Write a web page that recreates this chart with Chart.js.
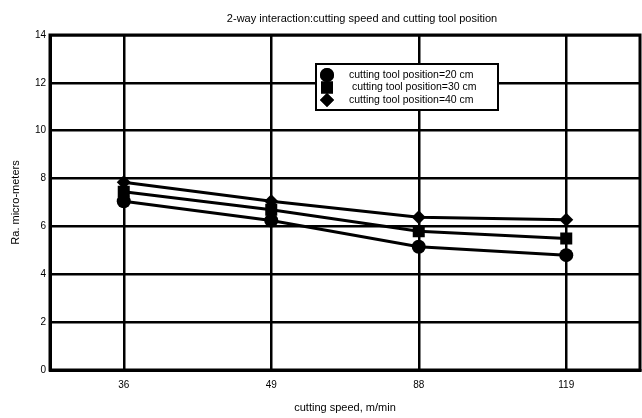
<!DOCTYPE html>
<html lang="en">
<head>
<meta charset="UTF-8">
<title>Ra vs cutting speed</title>
<script src="https://cdn.jsdelivr.net/npm/chart.js"></script>
<style>
    body { margin: 0; background: #fff; }
    #wrap { width: 642px; height: 418px; }
</style>
</head>
<body>
<div id="wrap"><canvas id="raChart" width="642" height="418"></canvas></div>
<script>
    // cutting speeds (m/min) and Ra readings for each tool position
    const speeds = ['36', '49', '88', '119'];
    const yTicks = [0, 2, 4, 6, 8, 10, 12, 14];
    const pos20 = [7.05, 6.25, 5.15, 4.8];
    const pos30 = [7.45, 6.7, 5.8, 5.5];
    const pos40 = [7.85, 7.05, 6.38, 6.28];
    const seriesLabels = ['cutting tool position=20 cm', ' cutting tool position=30 cm', 'cutting tool position=40 cm'];

    const FONT = "'Liberation Sans', Arial, sans-serif";

    // frame round the plot (top and right sides are not drawn by the axes)
    const framePlugin = {
        id: 'frame',
        beforeDatasetsDraw(chart) {
            const { ctx, chartArea: a } = chart;
            ctx.save();
            ctx.strokeStyle = '#000';
            ctx.lineWidth = 3;
            ctx.strokeRect(a.left, a.top, a.right - a.left, a.bottom - a.top);
            ctx.restore();
        }
    };

    // title drawn off-centre, legend box inside the plot
    const boxPlugin = {
        id: 'box',
        afterDraw(chart) {
            const ctx = chart.ctx;
            ctx.save();
            ctx.fillStyle = '#000';
            ctx.font = '11px ' + FONT;
            ctx.textAlign = 'center';
            ctx.textBaseline = 'middle';
            ctx.fillText('2-way interaction:cutting speed and cutting tool position', 362, 19);

            const bx = 316, by = 64, bw = 182, bh = 46;
            ctx.fillStyle = '#fff';
            ctx.fillRect(bx, by, bw, bh);
            ctx.strokeStyle = '#000';
            ctx.lineWidth = 2;
            ctx.strokeRect(bx, by, bw, bh);

            ctx.font = '10.5px ' + FONT;
            ctx.textAlign = 'left';
            chart.data.datasets.forEach((ds, i) => {
                const y = by + 11 + i * 12.5;
                ctx.fillStyle = '#000';
                Chart.helpers.drawPoint(ctx, {
                    pointStyle: ds.pointStyle,
                    radius: ds.pointRadius,
                    borderWidth: 0
                }, bx + 11, y);
                ctx.fill();
                ctx.fillText(ds.label, bx + 33, y);
            });
            ctx.restore();
        }
    };

    const lineDs = (label, data, style, r) => ({
        label: label,
        data: data,
        borderColor: '#000',
        backgroundColor: '#000',
        borderWidth: 3,
        pointStyle: style,
        pointRadius: r,
        pointHoverRadius: r,
        pointBorderWidth: 0,
        tension: 0
    });

    new Chart(document.getElementById('raChart'), {
        type: 'line',
        data: {
            labels: speeds,
            datasets: [
                lineDs(seriesLabels[0], pos20, 'circle', 7),
                lineDs(seriesLabels[1], pos30, 'rect', 8.5),
                lineDs(seriesLabels[2], pos40, 'rectRot', 7)
            ]
        },
        options: {
            responsive: false,
            animation: false,
            layout: { autoPadding: false, padding: { top: 35, right: 2, left: 0, bottom: 0 } },
            plugins: {
                legend: { display: false },
                title: { display: false },
                tooltip: { enabled: false }
            },
            scales: {
                x: {
                    offset: true,
                    grid: { color: '#000', lineWidth: 2.5, drawTicks: false },
                    border: { color: '#000', width: 3 },
                    ticks: { color: '#000', font: { family: FONT, size: 10 }, padding: 9 },
                    title: {
                        display: true,
                        text: 'cutting speed, m/min',
                        color: '#000',
                        font: { family: FONT, size: 11 },
                        padding: { top: 0, bottom: 3 }
                    },
                    afterFit(scale) { scale.height = 48; }
                },
                y: {
                    min: 0,
                    max: 14,
                    afterBuildTicks(scale) { scale.ticks = yTicks.map(v => ({ value: v })); },
                    grid: { color: '#000', lineWidth: 2.5, drawTicks: false },
                    border: { color: '#000', width: 3 },
                    ticks: { color: '#000', font: { family: FONT, size: 10 }, padding: 4 },
                    title: {
                        display: true,
                        text: 'Ra. micro-meters',
                        color: '#000',
                        font: { family: FONT, size: 11 },
                        padding: { top: 9, bottom: 0 }
                    },
                    afterFit(scale) { scale.width = 50; }
                }
            }
        },
        plugins: [framePlugin, boxPlugin]
    });
</script>
</body>
</html>
